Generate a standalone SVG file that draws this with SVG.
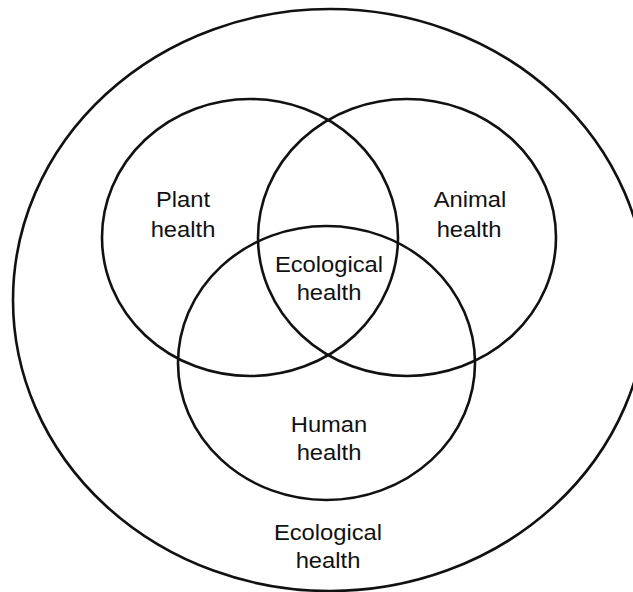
<svg xmlns="http://www.w3.org/2000/svg" width="633" height="592" viewBox="0 0 633 592">
<style>
.c{fill:none;stroke:#111;stroke-width:2.6}
.t{font-family:"Liberation Sans",Arial,sans-serif;font-size:22px;fill:#111;text-anchor:middle}
</style>
<rect width="633" height="592" fill="#fff"/>
<g id="outer"><ellipse class="c" cx="330" cy="300" rx="317" ry="291"/>
<text class="t" transform="matrix(1.08 0 0 1 328 540)">Ecological</text><text class="t" transform="matrix(1.08 0 0 1 328 568)">health</text></g>
<g id="plant"><ellipse class="c" cx="250" cy="237.5" rx="148" ry="138.5"/>
<text class="t" transform="matrix(1.08 0 0 1 183 207)">Plant</text><text class="t" transform="matrix(1.08 0 0 1 183 237)">health</text></g>
<g id="animal"><ellipse class="c" cx="407" cy="237.5" rx="149" ry="138.5"/>
<text class="t" transform="matrix(1.08 0 0 1 470 207)">Animal</text><text class="t" transform="matrix(1.08 0 0 1 469 237)">health</text></g>
<g id="human"><ellipse class="c" cx="326.5" cy="363" rx="148.5" ry="137"/>
<text class="t" transform="matrix(1.08 0 0 1 329 432)">Human</text><text class="t" transform="matrix(1.08 0 0 1 329 460)">health</text></g>
<g id="center"><text class="t" transform="matrix(1.08 0 0 1 329 272)">Ecological</text><text class="t" transform="matrix(1.08 0 0 1 329 300)">health</text></g>
<g id="connectors"></g>
</svg>
